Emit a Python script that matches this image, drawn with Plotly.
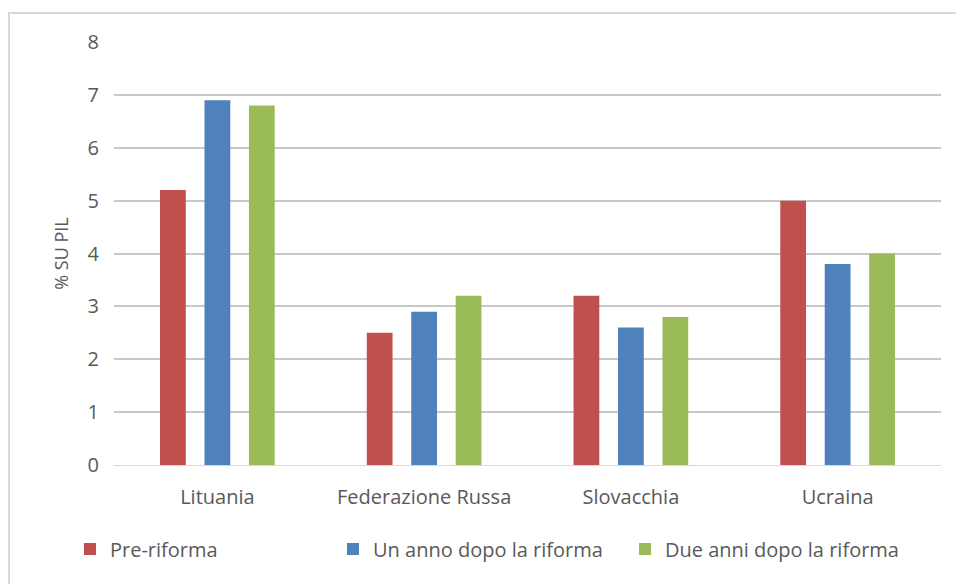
import plotly.graph_objects as go

categories = ["Lituania", "Federazione Russa", "Slovacchia", "Ucraina"]
pre_riforma = [5.2, 2.5, 3.2, 5.0]
un_anno = [6.9, 2.9, 2.6, 3.8]
due_anni = [6.8, 3.2, 2.8, 4.0]
series_names = ["Pre-riforma", "Un anno dopo la riforma", "Due anni dopo la riforma"]
colors = ["#C0504D", "#4F81BD", "#9BBB59"]
tick_vals = [0, 1, 2, 3, 4, 5, 6, 7, 8]

FONT = "Liberation Sans Narrow, Open Sans, sans-serif"

fig = go.Figure()
legends = ["legend", "legend2", "legend3"]
for name, vals, col, lg in zip(series_names, [pre_riforma, un_anno, due_anni], colors, legends):
    fig.add_trace(go.Bar(x=categories, y=vals, name=name, marker_color=col,
                         marker_line_width=0, legend=lg, showlegend=True))

W, H = 956, 584
ml, mr, mt, mb = 114, 15, 42, 119
pw, ph = W - ml - mr, H - mt - mb

def lx(px):
    return (px - ml) / pw

def ly(py):
    return (H - mb - py) / ph

leg_common = dict(orientation="h", font=dict(family=FONT, size=20, color="#595959"),
                  bgcolor="rgba(0,0,0,0)", yanchor="middle", xanchor="left",
                  itemwidth=30, tracegroupgap=0)
fig.update_layout(
    width=W, height=H,
    margin=dict(l=ml, r=mr, t=mt, b=mb),
    paper_bgcolor="white", plot_bgcolor="white",
    showlegend=True,
    barmode="group", bargap=0.355, bargroupgap=0.42,
    font=dict(family=FONT, size=20, color="#595959"),
    legend=dict(x=lx(70), y=ly(549), **leg_common),
    legend2=dict(x=lx(333), y=ly(549), **leg_common),
    legend3=dict(x=lx(625), y=ly(549), **leg_common),
    xaxis=dict(showgrid=False, showline=True, linecolor="#d9d9d9", linewidth=1,
               ticks="", tickfont=dict(size=20, color="#595959"), ticklabelstandoff=14),
    yaxis=dict(range=[0, 8], tickvals=tick_vals, showgrid=True, gridcolor="#c8c8c8",
               gridwidth=2, zeroline=False, showline=False, ticks="",
               tickfont=dict(size=20, color="#595959"), ticklabelstandoff=14,
               title=dict(text="% SU PIL", font=dict(size=18, color="#595959"), standoff=14)),
    shapes=[dict(type="rect", xref="paper", yref="paper",
                 x0=(9 - ml) / pw, x1=(W + 5 - ml) / pw,
                 y0=(H - mb - (H + 5)) / ph, y1=(H - mb - 13) / ph,
                 line=dict(color="#d9d9d9", width=2), fillcolor="rgba(0,0,0,0)", layer="below")],
)

fig.write_html("out.html")
